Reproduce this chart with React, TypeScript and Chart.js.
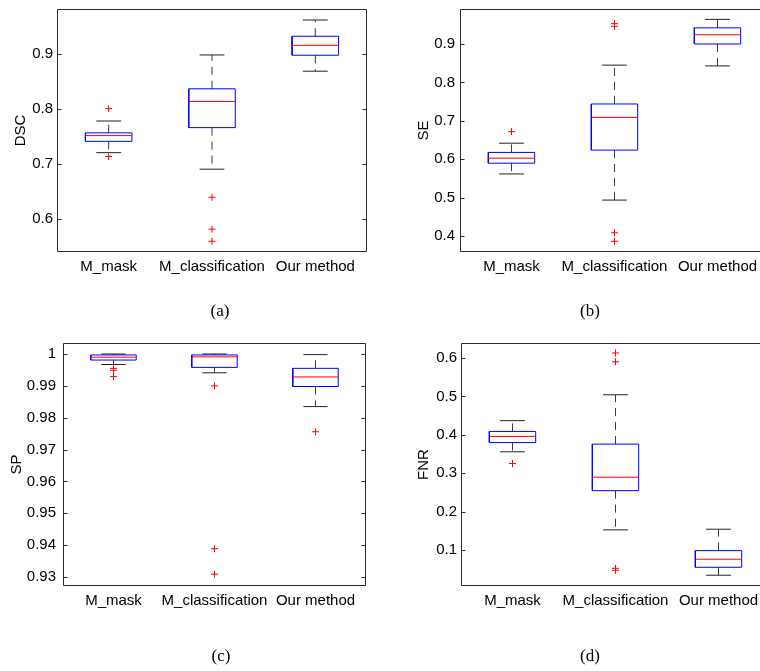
import React, { useEffect, useRef } from 'react';
import { Chart, registerables } from 'chart.js';

Chart.register(...registerables);

// ---------------- data ----------------
const CATEGORIES = ['M_mask', 'M_classification', 'Our method'];

// (a) DSC
const DSC_LOWER = [0.72, 0.69, 0.868];
const DSC_Q1 = [0.7405, 0.7655, 0.897];
const DSC_MEDIAN = [0.751, 0.813, 0.915];
const DSC_Q3 = [0.756, 0.836, 0.9315];
const DSC_UPPER = [0.7775, 0.8975, 0.961];
const DSC_OUTLIERS = [[0.8, 0.713], [0.639, 0.581, 0.559], []];
const DSC_TICKS = [0.6, 0.7, 0.8, 0.9];

// (b) SE
const SE_LOWER = [0.562, 0.494, 0.843];
const SE_Q1 = [0.59, 0.624, 0.9];
const SE_MEDIAN = [0.603, 0.709, 0.924];
const SE_Q3 = [0.618, 0.744, 0.942];
const SE_UPPER = [0.642, 0.845, 0.964];
const SE_OUTLIERS = [[0.672], [0.953, 0.946, 0.409, 0.387], []];
const SE_TICKS = [0.4, 0.5, 0.6, 0.7, 0.8, 0.9];

// (c) SP
const SP_LOWER = [0.9967, 0.9941, 0.9835];
const SP_Q1 = [0.9981, 0.9958, 0.9898];
const SP_MEDIAN = [0.999, 0.9991, 0.9928];
const SP_Q3 = [0.9997, 0.9997, 0.9955];
const SP_UPPER = [1.0, 1.0, 0.9998];
const SP_OUTLIERS = [[0.9955, 0.9949, 0.9929], [0.99, 0.9389, 0.9309], [0.9756]];
const SP_TICKS = [0.93, 0.94, 0.95, 0.96, 0.97, 0.98, 0.99, 1];

// (d) FNR
const FNR_LOWER = [0.356, 0.153, 0.035];
const FNR_Q1 = [0.38, 0.255, 0.0557];
const FNR_MEDIAN = [0.396, 0.29, 0.0766];
const FNR_Q3 = [0.409, 0.376, 0.099];
const FNR_UPPER = [0.437, 0.5044, 0.1547];
const FNR_OUTLIERS = [[0.3255], [0.613, 0.59, 0.053, 0.048], []];
const FNR_TICKS = [0.1, 0.2, 0.3, 0.4, 0.5, 0.6];

// ---------------- styling ----------------
const SANS = '"Liberation Sans", Arial, Helvetica, sans-serif';
const SERIF = '"Liberation Serif", "Times New Roman", Times, serif';
const BOX_HALF = 0.225;
const CAP_HALF = 0.12;

type Stats = {
  title: string;
  caption: string;
  lower: number[];
  q1: number[];
  median: number[];
  q3: number[];
  upper: number[];
  outliers: number[][];
  ticks: number[];
  yMin: number;
  yMax: number;
};

type Layout = {
  left: number; top: number; w: number; h: number;
  axisW: number; padTop: number; padRight: number; plotBottom: number;
  titlePad: number; tickPad: number; capX: number; capY: number;
};

const PANELS: { stats: Stats; layout: Layout }[] = [
  {
    stats: { title: 'DSC', caption: '(a)', lower: DSC_LOWER, q1: DSC_Q1, median: DSC_MEDIAN, q3: DSC_Q3, upper: DSC_UPPER, outliers: DSC_OUTLIERS, ticks: DSC_TICKS, yMin: 0.5395, yMax: 0.981 },
    layout: { left: 0, top: 0, w: 380, h: 330, axisW: 57, padTop: 9, padRight: 13, plotBottom: 252, titlePad: 12, tickPad: 4, capX: 220, capY: 312 },
  },
  {
    stats: { title: 'SE', caption: '(b)', lower: SE_LOWER, q1: SE_Q1, median: SE_MEDIAN, q3: SE_Q3, upper: SE_UPPER, outliers: SE_OUTLIERS, ticks: SE_TICKS, yMin: 0.359, yMax: 0.991 },
    layout: { left: 380, top: 0, w: 400, h: 330, axisW: 80, padTop: 9, padRight: 11, plotBottom: 252, titlePad: 35, tickPad: 5, capX: 210, capY: 312 },
  },
  {
    stats: { title: 'SP', caption: '(c)', lower: SP_LOWER, q1: SP_Q1, median: SP_MEDIAN, q3: SP_Q3, upper: SP_UPPER, outliers: SP_OUTLIERS, ticks: SP_TICKS, yMin: 0.9272, yMax: 1.00345 },
    layout: { left: 0, top: 330, w: 380, h: 341, axisW: 63, padTop: 13, padRight: 14, plotBottom: 256, titlePad: 8, tickPad: 7, capX: 221, capY: 327 },
  },
  {
    stats: { title: 'FNR', caption: '(d)', lower: FNR_LOWER, q1: FNR_Q1, median: FNR_MEDIAN, q3: FNR_Q3, upper: FNR_UPPER, outliers: FNR_OUTLIERS, ticks: FNR_TICKS, yMin: 0.007, yMax: 0.639 },
    layout: { left: 380, top: 330, w: 400, h: 341, axisW: 81, padTop: 13, padRight: 10, plotBottom: 256, titlePad: 35, tickPad: 4, capX: 210, capY: 327 },
  },
];

type Pt = { x: number; y: number | null };

function segments(list: [number, number, number, number][]): Pt[] {
  const pts: Pt[] = [];
  list.forEach(([x1, y1, x2, y2]) => {
    pts.push({ x: x1, y: y1 }, { x: x2, y: y2 }, { x: x2, y: null });
  });
  return pts;
}

function buildConfig(s: Stats, L: Layout): any {
  const pos = CATEGORIES.map((_, i) => i + 1);
  const boxPts: Pt[] = [];
  pos.forEach((x, i) => {
    boxPts.push(
      { x: x - BOX_HALF, y: s.q1[i] },
      { x: x + BOX_HALF, y: s.q1[i] },
      { x: x + BOX_HALF, y: s.q3[i] },
      { x: x - BOX_HALF, y: s.q3[i] },
      { x: x - BOX_HALF, y: s.q1[i] },
      { x: x, y: null }
    );
  });
  const medianPts = segments(pos.map((x, i) => [x - BOX_HALF, s.median[i], x + BOX_HALF, s.median[i]] as [number, number, number, number]));
  const capPts = segments(
    pos.flatMap((x, i) => [
      [x - CAP_HALF, s.upper[i], x + CAP_HALF, s.upper[i]] as [number, number, number, number],
      [x - CAP_HALF, s.lower[i], x + CAP_HALF, s.lower[i]] as [number, number, number, number],
    ])
  );
  const whiskerPts = segments(
    pos.flatMap((x, i) => [
      [x, s.q3[i], x, s.upper[i]] as [number, number, number, number],
      [x, s.q1[i], x, s.lower[i]] as [number, number, number, number],
    ])
  );
  const outlierPts = pos.flatMap((x, i) => s.outliers[i].map((v) => ({ x, y: v })));

  const lineBase = { pointRadius: 0, pointHoverRadius: 0, spanGaps: false, tension: 0, fill: false, borderWidth: 1 };
  const font = { family: SANS, size: 15 };

  const framePlugin = {
    id: 'frame',
    afterDraw(chart: any) {
      const { ctx, chartArea } = chart;
      const l = Math.round(chartArea.left) + 0.5;
      const r = Math.round(chartArea.right) - 0.5;
      const t = Math.round(chartArea.top) + 0.5;
      const b = Math.round(chartArea.bottom) - 0.5;
      ctx.save();
      ctx.strokeStyle = '#2b2b2b';
      ctx.lineWidth = 1;
      ctx.beginPath();
      ctx.rect(l, t, r - l, b - t);
      const ys = chart.scales.y;
      ys.ticks.forEach((tk: any) => {
        const py = Math.round(ys.getPixelForValue(tk.value)) + 0.5;
        ctx.moveTo(l, py);
        ctx.lineTo(l + 4, py);
        ctx.moveTo(r, py);
        ctx.lineTo(r - 4, py);
      });
      ctx.stroke();
      ctx.restore();
    },
  };

  const captionPlugin = {
    id: 'caption',
    afterDraw(chart: any) {
      const { ctx } = chart;
      ctx.save();
      ctx.font = `17px ${SERIF}`;
      ctx.fillStyle = '#000';
      ctx.textAlign = 'center';
      ctx.textBaseline = 'middle';
      ctx.fillText(s.caption, L.capX, L.capY);
      ctx.restore();
    },
  };

  return {
    type: 'line',
    data: {
      datasets: [
        { ...lineBase, label: 'median', data: medianPts, borderColor: '#ff0000', order: 0 },
        {
          label: 'outliers', type: 'scatter', data: outlierPts, showLine: false,
          pointStyle: 'cross', pointRadius: 3.5, pointHoverRadius: 3.5, pointBorderWidth: 1,
          borderColor: '#ff0000', backgroundColor: '#ff0000', order: 0,
        },
        { ...lineBase, label: 'box', data: boxPts, borderColor: '#0000ff', order: 1 },
        { ...lineBase, label: 'caps', data: capPts, borderColor: '#222222', order: 2 },
        { ...lineBase, label: 'whiskers', data: whiskerPts, borderColor: '#3a3a3a', borderDash: [8, 6], order: 3 },
      ],
    },
    options: {
      responsive: false,
      animation: false,
      devicePixelRatio: 1,
      events: [],
      layout: { padding: { top: L.padTop, right: L.padRight, left: 0, bottom: 0 } },
      plugins: { legend: { display: false }, tooltip: { enabled: false } },
      scales: {
        x: {
          type: 'linear',
          min: 0.5,
          max: CATEGORIES.length + 0.5,
          afterBuildTicks: (sc: any) => {
            sc.ticks = pos.map((v) => ({ value: v }));
          },
          ticks: {
            callback: (v: number) => CATEGORIES[Math.round(v) - 1],
            autoSkip: false,
            maxRotation: 0,
            minRotation: 0,
            font,
            color: '#000',
            padding: 6,
          },
          grid: { display: false, drawTicks: false },
          border: { display: false },
          afterFit: (sc: any) => {
            sc.height = L.h - L.plotBottom;
            sc.paddingLeft = 0;
            sc.paddingRight = 0;
          },
        },
        y: {
          type: 'linear',
          min: s.yMin,
          max: s.yMax,
          afterBuildTicks: (sc: any) => {
            sc.ticks = s.ticks.map((v) => ({ value: v }));
          },
          ticks: { callback: (v: number) => String(v), font, color: '#000', padding: L.tickPad },
          grid: { display: false, drawTicks: false },
          border: { display: false },
          title: { display: true, text: s.title, font, color: '#000', padding: { top: L.titlePad, bottom: 0 } },
          afterFit: (sc: any) => {
            sc.width = L.axisW;
            sc.paddingTop = 0;
            sc.paddingBottom = 0;
          },
        },
      },
    },
    plugins: [framePlugin, captionPlugin],
  };
}

function BoxPanel({ stats, layout }: { stats: Stats; layout: Layout }) {
  const ref = useRef<HTMLCanvasElement>(null);
  useEffect(() => {
    if (!ref.current) return;
    const chart = new Chart(ref.current, buildConfig(stats, layout));
    return () => chart.destroy();
  }, [stats, layout]);
  return (
    <canvas
      ref={ref}
      width={layout.w}
      height={layout.h}
      style={{ position: 'absolute', left: layout.left, top: layout.top, width: layout.w, height: layout.h }}
    />
  );
}

export default function App() {
  return (
    <div
      style={{
        position: 'absolute',
        left: 0,
        top: 0,
        width: 760,
        height: 671,
        overflow: 'hidden',
        background: '#ffffff',
      }}
    >
      {PANELS.map((p, i) => (
        <BoxPanel key={i} stats={p.stats} layout={p.layout} />
      ))}
    </div>
  );
}
